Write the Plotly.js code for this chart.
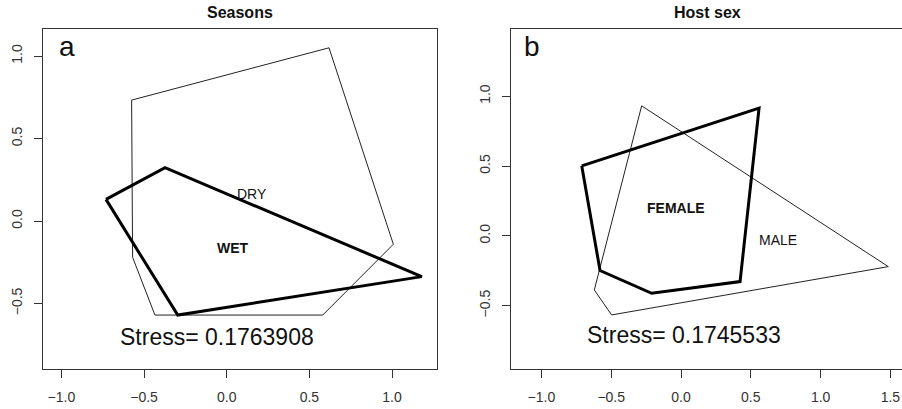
<!DOCTYPE html>
<html>
<head>
<meta charset="utf-8">
<script src="https://cdn.plot.ly/plotly-3.0.1.min.js"></script>
<style>html,body{margin:0;padding:0;background:#fff;}#chart{width:902px;height:409px;}</style>
</head>
<body>
<div id="chart"></div>
<script>
// Panel a: Seasons (NMDS hull vertices)
const dryX = [-0.575, 0.619, 1.008, 0.581, -0.434, -0.569];
const dryY = [0.733, 1.050, -0.141, -0.570, -0.570, -0.220];
const wetX = [-0.730, -0.373, 1.180, -0.296];
const wetY = [0.131, 0.323, -0.337, -0.570];
const seasonLabels = ["DRY", "WET"];
const seasonLabelX = [0.155, 0.040];
const seasonLabelY = [0.164, -0.165];
const stressA = "Stress= 0.1763908";

// Panel b: Host sex
const maleX = [-0.282, 1.485, -0.497, -0.621];
const maleY = [0.931, -0.220, -0.566, -0.387];
const femaleX = [-0.711, 0.559, 0.423, -0.210, -0.580];
const femaleY = [0.501, 0.915, -0.327, -0.411, -0.248];
const sexLabels = ["FEMALE", "MALE"];
const sexLabelX = [-0.038, 0.697];
const sexLabelY = [0.203, -0.029];
const stressB = "Stress= 0.1745533";

const xTicksA = [-1.0, -0.5, 0.0, 0.5, 1.0];
const xTicksB = [-1.0, -0.5, 0.0, 0.5, 1.0, 1.5];
const yTicks = [-0.5, 0.0, 0.5, 1.0];

const FONT = "Liberation Sans, Arial, Helvetica, sans-serif";
const close = a => a.concat([a[0]]);
const fmt = v => (v < 0 ? "\u2212" : "") + Math.abs(v).toFixed(1);

function hull(x, y, w, xa, ya, color) {
  return {x: close(x), y: close(y), type: "scatter", mode: "lines",
    line: {color: color, width: w, shape: "linear"}, xaxis: xa, yaxis: ya,
    hoverinfo: "skip", showlegend: false};
}

const data = [
  hull(dryX, dryY, 1, "x", "y", "#222"),
  hull(wetX, wetY, 3, "x", "y", "#000"),
  hull(maleX, maleY, 1, "x2", "y2", "#222"),
  hull(femaleX, femaleY, 3, "x2", "y2", "#000")
];

function axis(domain, range, anchor, isY, mirror, ticks) {
  return {
    domain: domain, range: range, anchor: anchor,
    showgrid: false, zeroline: false,
    showline: true, linecolor: "#333", linewidth: 1, mirror: mirror,
    ticks: "outside", ticklen: 8, tickcolor: "#333", tickwidth: 1,
    tickmode: "array", tickvals: ticks, ticktext: ticks.map(fmt),
    tickfont: {family: FONT, size: 14, color: "#333"},
    tickangle: isY ? -90 : 0,
    ticklabelstandoff: isY ? 6 : 7,
    fixedrange: true
  };
}

const yDom = [(409 - 369) / 409, (409 - 29) / 409];

const annotations = [];
function txt(t, x, y, xr, yr, size, bold) {
  annotations.push({text: bold ? "<b>" + t + "</b>" : t, x: x, y: y, xref: xr, yref: yr,
    showarrow: false, xanchor: "center", yanchor: "middle",
    font: {family: FONT, size: size, color: "#111"}});
}
txt(seasonLabels[0], seasonLabelX[0], seasonLabelY[0], "x", "y", 14, false);
txt(seasonLabels[1], seasonLabelX[1], seasonLabelY[1], "x", "y", 14, true);
txt(stressA, -0.06, -0.70, "x", "y", 23, false);
txt("a", -0.968, 1.056, "x", "y", 28, false);
txt(sexLabels[0], sexLabelX[0], sexLabelY[0], "x2", "y2", 14, true);
txt(sexLabels[1], sexLabelX[1], sexLabelY[1], "x2", "y2", 14, false);
txt(stressB, 0.024, -0.709, "x2", "y2", 23, false);
txt("b", -1.068, 1.356, "x2", "y2", 28, false);
// Panel titles
annotations.push({text: "<b>Seasons</b>", x: 240 / 902, y: 1 - 13 / 409, xref: "paper", yref: "paper",
  showarrow: false, xanchor: "center", yanchor: "middle", font: {family: FONT, size: 16, color: "#111"}});
annotations.push({text: "<b>Host sex</b>", x: 707 / 902, y: 1 - 13 / 409, xref: "paper", yref: "paper",
  showarrow: false, xanchor: "center", yanchor: "middle", font: {family: FONT, size: 16, color: "#111"}});

const layout = {
  width: 902, height: 409,
  margin: {l: 0, r: 0, t: 0, b: 0, autoexpand: false},
  paper_bgcolor: "#fff", plot_bgcolor: "#fff",
  showlegend: false,
  xaxis: axis([43 / 902, 437 / 902], [-1.111, 1.272], "y", false, true, xTicksA),
  yaxis: axis(yDom, [-0.897, 1.164], "x", true, true, yTicks),
  xaxis2: axis([510.7 / 902, 1], [-1.22, 1.583], "y2", false, true, xTicksB),
  yaxis2: axis(yDom, [-0.953, 1.481], "x2", true, false, yTicks),
  annotations: annotations
};

Plotly.newPlot("chart", data, layout, {staticPlot: true, displayModeBar: false});
</script>
</body>
</html>
